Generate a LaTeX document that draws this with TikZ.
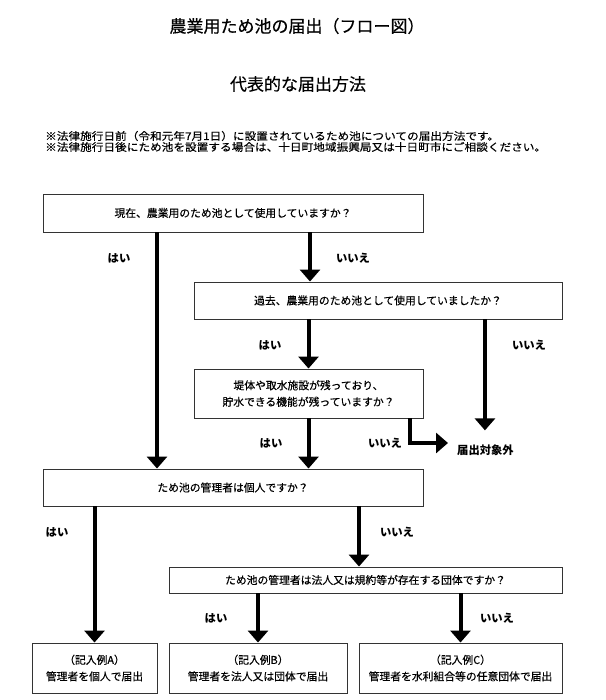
\documentclass[tikz,border=0pt]{standalone}
\usepackage{fontspec}
\setmainfont{Noto Sans CJK JP}
\newfontfamily\notefont[FakeStretch=1.11,FakeBold=0.35]{Noto Sans CJK JP}
\newfontfamily\boxfont[FakeBold=0.35]{Noto Sans CJK JP}
\usetikzlibrary{arrows.meta,calc}
\begin{document}
\begin{tikzpicture}[x=1pt,y=1pt,
  box/.style={draw=black!80, line width=0.9pt, inner sep=0pt, align=center,
              font=\boxfont\fontsize{10.8}{16.5}\selectfont},
  arr/.style={line width=4pt, -{Triangle[width=20pt,length=12pt]}},
  lbl/.style={font=\fontsize{11.3}{12}\selectfont\bfseries, inner sep=0pt},
  note/.style={anchor=west, inner sep=0pt, font=\notefont\fontsize{10.5}{11}\selectfont}]
\useasboundingbox (0,0) rectangle (605,-700);
\fill[white] (0,0) rectangle (605,-700);

% titles
\node[font=\boxfont\fontsize{17}{20}\selectfont] (t1) at (297,-26) {農業用ため池の届出（フロー図）};
\node[font=\boxfont\fontsize{17}{20}\selectfont] (t2) at (298,-84) {代表的な届出方法};
\node[note] (n1) at (45,-136) {※法律施行日前（令和元年7月1日）に設置されているため池についての届出方法です。};
\node[note] (n2) at (45,-147) {※法律施行日後にため池を設置する場合は、十日町地域振興局又は十日町市にご相談ください。};

% boxes
\node[box, minimum width=380pt, minimum height=38pt] (b1) at (233,-213) {現在、農業用のため池として使用していますか？};
\node[box, minimum width=368pt, minimum height=37pt] (b2) at (378,-300.5) {過去、農業用のため池として使用していましたか？};
\node[box, minimum width=229pt, minimum height=49pt] (b3) at (308.5,-393.5) {堤体や取水施設が残っており、\\貯水できる機能が残っていますか？};
\node[box, minimum width=380pt, minimum height=37pt] (b4) at (233,-487.5) {ため池の管理者は個人ですか？};
\node[box, minimum width=393pt, minimum height=26pt] (b5) at (365.5,-580) {ため池の管理者は法人又は規約等が存在する団体ですか？};
\node[box, minimum width=125pt, minimum height=50pt] (bA) at (94.5,-668) {（記入例A）\\管理者を個人で届出};
\node[box, minimum width=178pt, minimum height=50pt] (bB) at (258,-668) {（記入例B）\\管理者を法人又は団体で届出};
\node[box, minimum width=203pt, minimum height=50pt] (bC) at (460.5,-668) {（記入例C）\\管理者を水利組合等の任意団体で届出};

\node[lbl, anchor=west] (ex) at (457,-450) {届出対象外};

% connectors
\draw[arr] ([xshift=-76pt]b1.south) -- ([xshift=-76pt]b1.south |- b4.north);
\draw[arr] ([xshift=77pt]b1.south) -- ([xshift=77pt]b1.south |- b2.north);
\draw[arr] (b3.north |- b2.south) -- (b3.north);
\draw[arr] ([xshift=-0.5pt]ex.north |- b2.south) -- ([xshift=-0.5pt,yshift=14pt]ex.north);
\draw[arr] (b3.south) -- (b3.south |- b4.north);
\draw[arr] ([xshift=101.5pt]b3.south) |- ([xshift=-9pt,yshift=7pt]ex.west);
\draw[arr] (bA.north |- b4.south) -- (bA.north);
\draw[arr] ([xshift=126pt]b4.south) -- ([xshift=126pt]b4.south |- b5.north);
\draw[arr] (bB.north |- b5.south) -- (bB.north);
\draw[arr] (bC.north |- b5.south) -- (bC.north);

% labels
\node[lbl] (l1) at (119,-258) {はい};
\node[lbl] (l2) at (353,-258) {いいえ};
\node[lbl] (l3) at (270,-345) {はい};
\node[lbl] (l4) at (529,-345) {いいえ};
\node[lbl] (l5) at (271,-443) {はい};
\node[lbl] (l6) at (385,-443) {いいえ};
\node[lbl] (l7) at (57,-532) {はい};
\node[lbl] (l8) at (397,-532) {いいえ};
\node[lbl] (l9) at (216,-618) {はい};
\node[lbl] (l10) at (497,-618) {いいえ};
\end{tikzpicture}
\end{document}
